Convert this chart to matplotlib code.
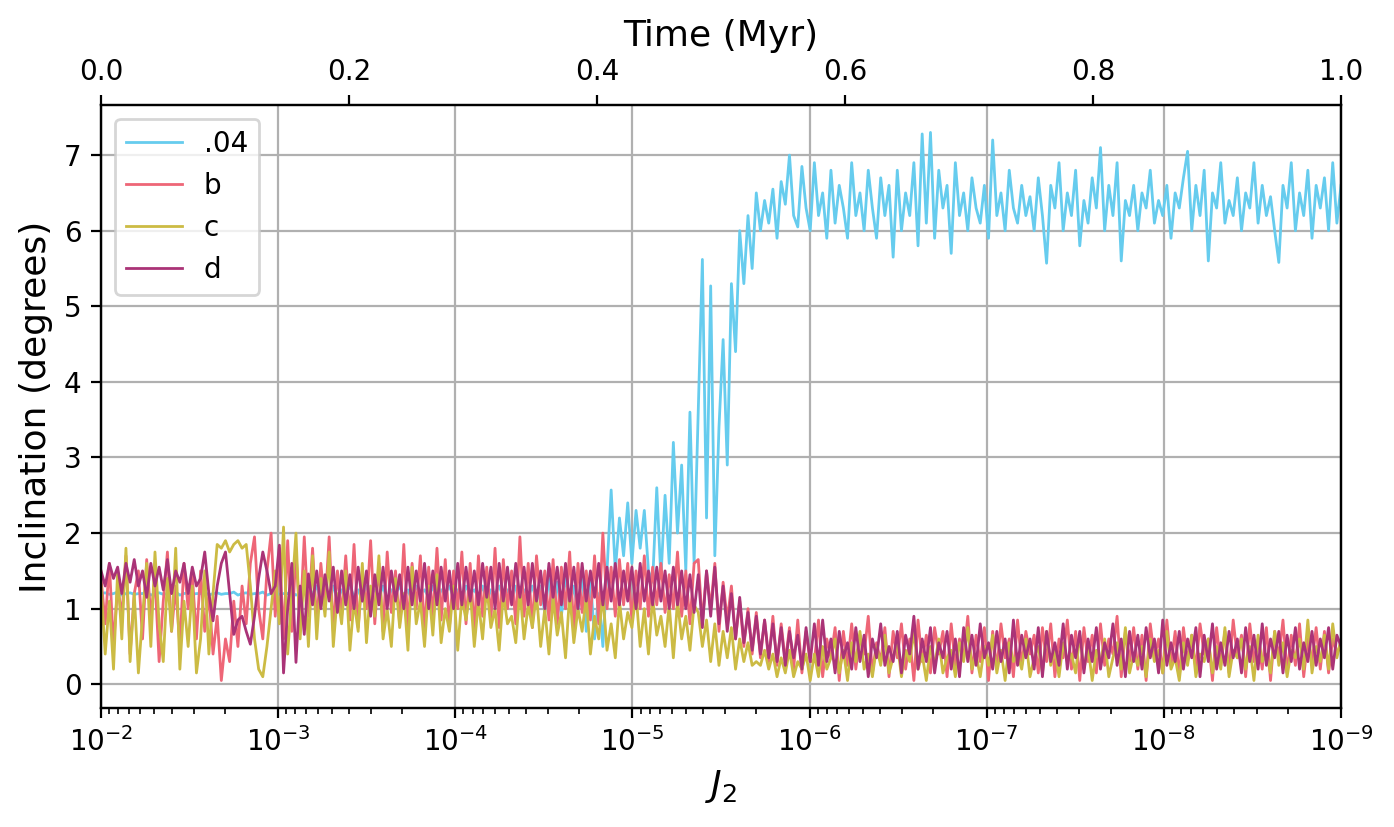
import numpy as np
import matplotlib
matplotlib.use("Agg")
import matplotlib.pyplot as plt

# inclination (degrees), sampled evenly in time from 0 to 1 Myr
inc_04 = [
    1.2, 1.21, 1.19, 1.2, 1.22, 1.18, 1.2, 1.21, 1.19, 1.2,
    1.2, 1.22, 1.18, 1.2, 1.21, 1.19, 1.2, 1.2, 1.22, 1.18,
    1.2, 1.21, 1.19, 1.2, 1.2, 1.22, 1.18, 1.2, 1.21, 1.19,
    1.2, 1.2, 1.22, 1.18, 1.2, 1.21, 1.19, 1.2, 1.2, 1.22,
    1.18, 1.2, 1.21, 1.19, 1.2, 1.2, 1.22, 1.18, 1.2, 1.21, 1.19,
    1.2, 1.3, 1.1, 1.25, 1.15, 1.3, 1.1, 1.25, 1.2, 1.3,
    1.15, 1.25, 1.1, 1.3, 1.2, 1.25, 1.15, 1.3, 1.1, 1.25,
    1.2, 1.3, 1.15, 1.25, 1.1, 1.3, 1.2, 1.25, 1.15, 1.3,
    1.1, 1.25, 1.2, 1.3, 1.15, 1.25, 1.1, 1.3, 1.2, 1.25,
    1.15, 1.3, 1.1, 1.25, 1.2, 1.3, 1.15, 1.25, 1.1, 1.3,
    1.2, 1.25, 1.15, 1.3, 1.1,
    1.3, 0.95, 1.4, 1.0, 1.35, 0.9, 1.45, 1.05, 1.3, 0.95,
    1.5, 0.7, 1.4, 0.6, 1.2, 0.5,
    1.5, 2.57, 1.5, 2.2, 1.7, 2.4, 1.6, 2.3, 1.8, 2.3,
    1.5, 1.35, 2.6, 1.4, 2.5, 1.6, 3.2, 2.0, 2.9, 1.5,
    3.6, 1.6, 3.6, 5.62, 2.2, 5.27, 1.7,
    3.4, 4.56, 2.9, 5.3, 4.4, 6.0, 5.3, 6.2, 5.5, 6.5,
    6.0, 6.4, 6.1, 6.55, 5.9, 6.65, 6.35, 7.0, 6.2, 6.05,
    6.85, 6.3,
    6.0, 6.9, 6.2, 6.5, 5.9, 6.8, 6.1, 6.6, 6.3, 5.9,
    6.9, 6.2, 6.5, 6.0, 6.8, 6.3, 5.9, 6.7, 6.2, 6.6,
    5.65, 6.8, 6.0, 6.5, 6.2, 6.9, 5.8, 7.28, 6.1, 7.3,
    5.9, 6.8, 6.3, 6.6, 5.7, 6.9, 6.2, 6.5, 6.0, 6.7,
    6.3, 6.1, 6.6, 5.9, 7.2, 6.2, 6.5, 6.0, 6.8, 6.3,
    6.1, 6.6, 6.2, 6.45, 6.0, 6.7, 6.2, 5.57, 6.6, 6.3,
    6.9, 6.0, 6.5, 6.2, 6.8, 5.8, 6.4, 6.1, 6.7, 6.3,
    7.1, 6.0, 6.6, 6.2, 6.9, 5.6, 6.4, 6.2, 6.6, 6.0,
    6.5, 6.3, 6.8, 6.1, 6.4, 6.2, 6.6, 5.9, 6.5, 6.3,
    6.7, 7.05, 6.0, 6.6, 6.2, 6.8, 5.6, 6.5, 6.3, 6.9,
    6.1, 6.4, 6.2, 6.7, 6.0, 6.5, 6.3, 6.9, 6.1, 6.6,
    6.2, 6.45, 6.0, 5.58, 6.6, 6.3, 6.9, 6.0, 6.5, 6.2,
    6.8, 5.9, 6.6, 6.3, 6.7, 6.0, 6.9, 6.1, 6.6,
]

inc_b = [
    1.4, 0.8, 1.6, 0.5, 1.3, 0.9, 1.7, 0.4, 1.2, 1.5,
    0.6, 1.65, 0.9, 1.4, 0.3, 1.1, 1.75, 0.7, 1.3, 0.5,
    1.6, 1.0, 1.45, 0.6,
    1.5, 0.7, 1.2, 0.4, 0.9, 0.05, 0.6, 0.3, 1.1, 0.5,
    1.3, 0.8, 1.6, 1.95, 1.0, 0.6, 1.5, 2.0, 0.9, 1.8,
    0.6, 1.9, 0.7, 1.75, 0.8, 1.95, 0.9,
    1.8, 0.8, 1.6, 1.0, 1.95, 0.7, 1.5, 0.9, 1.7, 0.85,
    1.85, 0.75, 1.45, 1.0, 1.9, 0.8, 1.6, 0.7, 1.75, 0.95,
    1.5, 0.8, 1.85, 0.75, 1.6, 1.0, 1.7, 0.7, 1.55, 0.9,
    1.8, 0.85, 1.65, 0.75, 1.5, 1.0, 1.75, 0.8, 1.6, 0.7,
    1.7, 0.9, 1.55, 0.85, 1.8, 0.75, 1.65, 1.0, 1.5, 0.8,
    1.95, 0.9, 1.6, 0.75, 1.7, 1.05, 1.5, 0.85, 1.65, 0.8,
    1.55, 1.0, 1.75, 0.7, 1.6, 0.95, 1.5, 0.85, 1.7, 0.8,
    2.0, 1.0, 1.55, 0.9, 1.65, 1.05, 1.6, 0.85, 1.5, 1.0,
    1.7, 0.9, 1.55, 1.05, 1.6, 0.95, 1.45, 1.0, 1.75, 0.9,
    1.5, 0.8, 1.6,
    1.65, 0.8, 1.5, 1.0, 1.6, 0.7, 1.35, 0.85, 1.3, 0.6,
    1.1, 0.5, 1.0, 0.4, 0.95, 0.35, 0.85, 0.3, 0.9, 0.25,
    0.8, 0.3, 0.75, 0.2, 0.85, 0.15, 0.7, 0.3,
    0.3, 0.85, 0.1, 0.6, 0.35, 0.75, 0.05, 0.7, 0.25, 0.8,
    0.2, 0.65, 0.4, 0.9, 0.15, 0.55, 0.3, 0.75, 0.1, 0.7,
    0.35, 0.8, 0.2, 0.6, 0.05, 0.85, 0.3, 0.65, 0.15, 0.75,
    0.4, 0.7, 0.1, 0.8, 0.25, 0.6, 0.35, 0.9, 0.15, 0.65,
    0.3, 0.75, 0.05, 0.7, 0.2, 0.8, 0.35, 0.6, 0.1, 0.85,
    0.25, 0.7, 0.4, 0.65, 0.15, 0.75, 0.3, 0.8, 0.1, 0.6,
    0.35, 0.85, 0.2, 0.7, 0.05, 0.75, 0.3, 0.65, 0.15, 0.8,
    0.25, 0.6, 0.4, 0.9, 0.1, 0.7, 0.3, 0.75, 0.2, 0.65,
    0.05, 0.8, 0.35, 0.6, 0.15, 0.85, 0.25, 0.7, 0.1, 0.75,
    0.3, 0.65, 0.2, 0.8, 0.4, 0.6, 0.05, 0.75, 0.25, 0.7,
    0.15, 0.85, 0.35, 0.65, 0.1, 0.8, 0.3, 0.6, 0.2, 0.75,
    0.05, 0.7, 0.35, 0.85, 0.15, 0.65, 0.25, 0.8, 0.1, 0.6,
    0.3, 0.75, 0.2, 0.7, 0.15, 0.6, 0.4, 0.55,
]

inc_c = [
    1.3, 0.4, 1.1, 0.2, 1.5, 0.6, 1.8, 0.3, 1.2, 0.15,
    0.9, 1.6, 0.5, 1.75, 0.8, 0.3, 1.4, 0.7, 1.8, 0.2,
    1.1, 0.5, 1.3, 0.15,
    0.6, 1.5, 0.4, 1.2, 1.85, 1.8, 1.9, 1.75, 1.85, 1.9,
    1.8, 1.85, 1.3, 0.6, 0.2, 0.1, 0.5, 1.0, 1.5, 0.8,
    2.08, 0.4, 1.2, 2.0, 0.6, 1.5, 0.5,
    1.7, 0.6, 1.4, 0.9, 1.75, 0.5, 1.2, 0.8, 1.5, 0.45,
    1.1, 0.7, 1.6, 0.55, 1.3, 0.9, 1.7, 0.6, 1.0, 0.5,
    1.4, 0.75, 1.2, 0.45, 1.55, 0.8, 1.1, 0.5, 1.3, 0.65,
    1.45, 0.55, 1.0, 0.7, 1.3, 0.45, 1.15, 0.85, 1.25, 0.5,
    1.1, 0.6, 1.3, 0.75, 1.0, 0.45, 1.2, 0.8, 0.9, 0.55,
    1.25, 0.6, 1.05, 0.75, 1.2, 0.5, 1.0, 0.4, 1.15, 0.65,
    0.95, 0.35, 1.2, 0.55, 1.0, 0.7, 1.15, 0.4, 0.9, 0.6,
    1.2, 0.45, 0.8, 0.35, 1.1, 0.6, 0.95, 0.75, 1.2, 0.5,
    1.0, 0.4, 1.15, 0.65, 0.9, 0.5, 1.05, 0.35, 1.1, 0.6,
    0.9, 0.45, 1.05,
    0.95, 0.5, 0.85, 0.3, 0.8, 0.25, 0.7, 0.35, 0.75, 0.2,
    0.6, 0.3, 0.55, 0.25, 0.3, 0.25, 0.45, 0.2, 0.4, 0.1,
    0.35, 0.15, 0.45, 0.1, 0.3, 0.2, 0.4, 0.05,
    0.4, 0.1, 0.5, 0.2, 0.35, 0.6, 0.15, 0.45, 0.05, 0.55,
    0.3, 0.7, 0.2, 0.4, 0.1, 0.5, 0.25, 0.65, 0.15, 0.35,
    0.55, 0.1, 0.45, 0.3, 0.7, 0.2, 0.4, 0.05, 0.5, 0.25,
    0.6, 0.15, 0.35, 0.45, 0.1, 0.55, 0.3, 0.75, 0.2, 0.4,
    0.1, 0.5, 0.25, 0.65, 0.15, 0.45, 0.05, 0.55, 0.3, 0.4,
    0.2, 0.6, 0.1, 0.35, 0.5, 0.15, 0.7, 0.25, 0.45, 0.1,
    0.55, 0.3, 0.4, 0.15, 0.65, 0.2, 0.5, 0.05, 0.45, 0.3,
    0.6, 0.1, 0.35, 0.55, 0.2, 0.75, 0.15, 0.4, 0.25, 0.5,
    0.1, 0.6, 0.3, 0.45, 0.15, 0.7, 0.2, 0.35, 0.05, 0.55,
    0.25, 0.65, 0.1, 0.4, 0.3, 0.6, 0.15, 0.5, 0.2, 0.75,
    0.1, 0.45, 0.35, 0.6, 0.2, 0.5, 0.05, 0.65, 0.3, 0.4,
    0.15, 0.7, 0.25, 0.55, 0.1, 0.45, 0.35, 0.6, 0.2, 0.85,
    0.15, 0.5, 0.3, 0.65, 0.2, 0.8, 0.35, 0.6,
]

inc_d = [
    1.5, 1.3, 1.6, 1.4, 1.55, 1.2, 1.6, 1.35, 1.65, 1.3,
    1.5, 1.15, 1.6, 1.3, 1.55, 1.25, 1.65, 1.2, 1.5, 1.35,
    1.6, 1.2, 1.55, 1.3,
    1.4, 1.75, 1.2, 0.84, 1.3, 1.6, 1.75, 1.2, 0.66, 0.85,
    0.9, 0.7, 0.53, 0.9, 1.4, 1.75, 1.5, 1.2, 1.3, 1.84,
    0.15, 1.0, 1.6, 0.29, 1.3, 0.66, 1.46,
    1.05, 1.5, 1.0, 1.45, 1.1, 1.55, 0.95, 1.5, 1.05, 1.45,
    1.0, 1.55, 1.1, 1.5, 0.9, 1.45, 1.05, 1.55, 1.0, 1.5,
    1.1, 1.45, 1.0, 1.55, 1.05, 1.5, 1.1, 1.6, 1.0, 1.5,
    1.05, 1.55, 1.1, 1.5, 1.0, 1.6, 1.05, 1.55, 1.1, 1.5,
    1.05, 1.6, 1.15, 1.55, 1.0, 1.6, 1.1, 1.55, 1.05, 1.6,
    1.15, 1.55, 1.05, 1.6, 1.1, 1.5, 1.0, 1.6, 1.15, 1.55,
    1.05, 1.6, 1.1, 1.55, 1.0, 1.6, 1.1, 1.5, 1.15, 1.6,
    1.05, 1.55, 1.1, 1.6, 1.05, 1.5, 1.1, 1.55, 1.0, 1.6,
    1.1, 1.5, 1.05, 1.55, 1.1, 1.5, 1.0, 1.55, 1.05, 1.5,
    1.0, 1.45, 0.95,
    1.45, 0.75, 1.5, 0.9, 1.55, 0.8, 1.3, 0.7, 1.2, 0.6,
    1.15, 0.55, 0.95, 0.45, 0.9, 0.4, 0.85, 0.35, 0.8, 0.3,
    0.75, 0.25, 0.7, 0.35, 0.65, 0.2, 0.75, 0.3,
    0.8, 0.25, 0.85, 0.3, 0.6, 0.15, 0.7, 0.35, 0.55, 0.2,
    0.75, 0.3, 0.65, 0.1, 0.6, 0.35, 0.8, 0.25, 0.5, 0.3,
    0.7, 0.15, 0.65, 0.4, 0.9, 0.2, 0.6, 0.3, 0.75, 0.15,
    0.55, 0.35, 0.7, 0.2, 0.6, 0.1, 0.75, 0.3, 0.65, 0.25,
    0.8, 0.35, 0.55, 0.2, 0.7, 0.3, 0.6, 0.15, 0.85, 0.25,
    0.65, 0.35, 0.6, 0.2, 0.75, 0.1, 0.7, 0.3, 0.55, 0.25,
    0.8, 0.2, 0.65, 0.35, 0.7, 0.15, 0.6, 0.3, 0.75, 0.2,
    0.55, 0.35, 0.8, 0.25, 0.6, 0.1, 0.7, 0.3, 0.65, 0.2,
    0.75, 0.35, 0.6, 0.15, 0.85, 0.25, 0.55, 0.3, 0.7, 0.2,
    0.6, 0.35, 0.75, 0.1, 0.65, 0.3, 0.8, 0.2, 0.55, 0.25,
    0.7, 0.35, 0.6, 0.15, 0.75, 0.3, 0.65, 0.2, 0.8, 0.25,
    0.6, 0.35, 0.7, 0.15, 0.65, 0.3, 0.75, 0.2, 0.55, 0.3,
    0.7, 0.25, 0.6, 0.35, 0.75, 0.2, 0.65, 0.5,
]

series = [(".04", inc_04, "#66CCEE"),
          ("b", inc_b, "#EE6677"),
          ("c", inc_c, "#CCBB44"),
          ("d", inc_d, "#AA3377")]

fig, ax = plt.subplots(figsize=(6.97, 4.135), dpi=200)
fig.subplots_adjust(left=0.0725, right=0.962, top=0.873, bottom=0.144)

for name, vals, col in series:
    t = np.linspace(0, 1, len(vals))
    # J2 falls by one decade every 1/7 Myr
    j2 = 10 ** (-2 - 7 * t)
    ax.plot(j2, vals, color=col, lw=1.0, label=name)

ax.set_xscale("log")
ax.set_xlim(1e-2, 1e-9)
ax.set_yticks(range(0, 8))
ax.grid(True)
ax.set_xlabel("$J_2$", fontsize=13)
ax.set_ylabel("Inclination (degrees)", fontsize=13)
ax.legend(loc="upper left")

top = ax.twiny()
top.set_xlim(0, 1)
top.set_xticks([0.0, 0.2, 0.4, 0.6, 0.8, 1.0])
top.set_xticklabels(["0.0", "0.2", "0.4", "0.6", "0.8", "1.0"])
top.set_xlabel("Time (Myr)", fontsize=13)

fig.savefig("out.png", dpi=200)
